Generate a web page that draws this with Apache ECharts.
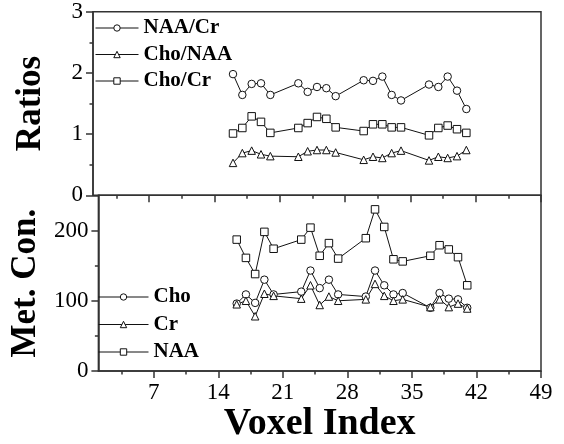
<!DOCTYPE html>
<html><head><meta charset="utf-8">
<script src="https://cdn.jsdelivr.net/npm/echarts@6/dist/echarts.min.js"></script>
<style>html,body{margin:0;padding:0;background:#fff}#c{width:564px;height:444px}</style>
</head><body><div id="c"></div>
<script>
const voxels = [16,17,18,19,20,23,24,25,26,27,30,31,32,33,34,37,38,39,40,41];
const naaCr  = [1.98,1.64,1.82,1.83,1.64,1.83,1.69,1.77,1.75,1.62,1.88,1.87,1.94,1.64,1.55,1.81,1.77,1.94,1.71,1.41];
const choNaa = [0.53,0.69,0.73,0.67,0.64,0.63,0.72,0.74,0.74,0.70,0.58,0.63,0.61,0.69,0.73,0.57,0.63,0.61,0.64,0.74];
const choCr  = [1.01,1.10,1.29,1.20,1.02,1.10,1.18,1.28,1.25,1.11,1.05,1.16,1.16,1.11,1.11,0.98,1.10,1.14,1.08,1.02];
const cho    = [96,109,97,130,109,113,143,118,130,109,106,143,122,109,111,90,111,103,102,90];
const cr     = [95,100,78,110,107,103,122,94,106,100,102,124,107,100,102,91,102,91,96,89];
const naa    = [187,161,138,198,174,187,204,164,182,160,189,230,205,159,156,164,179,173,162,122];
const xMajorTicks = [7,14,21,28,35,42,49];
const xMinorTicks = [3.5,10.5,17.5,24.5,31.5,38.5,45.5];
const conLabels = [0,100,200];

const FONT = "'Liberation Serif','Times New Roman',serif";
const AX = '#333';
const chart = echarts.init(document.getElementById('c'));
const pairs = v => voxels.map((x,i)=>[x,v[i]]);
const gridL = 93, gridR = 23;
function xAx(gi, ticks, len, labels, name){
  return {type:'value', gridIndex:gi, min:1, max:49, position:'bottom',
    axisLine:{show:labels!==null, onZero:false, lineStyle:{color:AX,width:1.5}},
    splitLine:{show:false},
    axisTick:{show:true, customValues:ticks, length:len, inside:false, lineStyle:{color:AX,width:1.5}},
    axisLabel:labels ? {show:true, customValues:labels, color:'#000', fontFamily:FONT, fontSize:23, margin:10} : {show:false},
    name:name||'', nameLocation:'middle', nameGap:30,
    nameTextStyle:{fontFamily:FONT, fontSize:38, fontWeight:'bold', color:'#000'}};
}
const yLabel = {show:true, color:'#000', fontFamily:FONT, fontSize:23, margin:10};
const yName = {fontFamily:FONT, fontSize:35, fontWeight:'bold', color:'#000'};
function ser(name, data, sym, xi, yi){
  return {name:name, type:'line', data:pairs(data), xAxisIndex:xi, yAxisIndex:yi,
    symbol:sym, symbolSize:7.5, showSymbol:true,
    lineStyle:{color:'#111', width:1},
    itemStyle:{color:'#fff', borderColor:'#111', borderWidth:1},
    emphasis:{disabled:true}, animation:false};
}
const legendItem = {color:'#fff', borderColor:'#111', borderWidth:1};
chart.setOption({
  animation:false,
  grid:[
    {left:gridL, right:gridR, top:11.7, height:183.6, show:true, borderColor:AX, borderWidth:1.5, backgroundColor:'transparent'},
    {left:gridL, right:gridR, top:195.3, height:179.4, show:true, borderColor:AX, borderWidth:1.5, backgroundColor:'transparent'}
  ],
  xAxis:[
    xAx(0, xMajorTicks, 7, null),
    xAx(0, xMinorTicks, 3.5, null),
    xAx(1, xMajorTicks, 7, xMajorTicks, 'Voxel Index'),
    xAx(1, xMinorTicks, 3.5, null)
  ],
  yAxis:[
    {type:'value', gridIndex:0, min:0, max:3, interval:1, position:'left',
     axisLine:{show:true, onZero:false, lineStyle:{color:AX,width:1.5}}, splitLine:{show:false},
     axisTick:{show:true, length:7, lineStyle:{color:AX,width:1.5}},
     minorTick:{show:true, splitNumber:2, length:3.5, lineStyle:{color:AX,width:1.5}},
     axisLabel:yLabel, name:'Ratios', nameLocation:'middle', nameGap:45, nameRotate:90, nameTextStyle:yName},
    {type:'value', gridIndex:1, min:0, max:250, interval:100, position:'left',
     axisLine:{show:true, onZero:false, lineStyle:{color:AX,width:1.5}}, splitLine:{show:false},
     axisTick:{show:true, length:7, lineStyle:{color:AX,width:1.5}},
     axisLabel:Object.assign({customValues:conLabels}, yLabel),
     name:'Met. Con.', nameLocation:'middle', nameGap:42, nameRotate:90, nameTextStyle:yName},
    {type:'value', gridIndex:1, min:0, max:250, interval:50, position:'left',
     axisLine:{show:false, onZero:false}, splitLine:{show:false},
     axisTick:{show:true, length:3.5, lineStyle:{color:AX,width:1.5}},
     axisLabel:{show:false}}
  ],
  legend:[
    {data:['NAA/Cr','Cho/NAA','Cho/Cr'], orient:'vertical', left:90, top:11, itemWidth:43, itemHeight:8, itemGap:2.5,
     itemStyle:legendItem, lineStyle:{color:'#111', width:1},
     textStyle:{fontFamily:FONT, fontSize:21, fontWeight:'bold', color:'#000', lineHeight:24}},
    {data:['Cho','Cr','NAA'], orient:'vertical', left:93, top:280, itemWidth:50, itemHeight:8, itemGap:3.5,
     itemStyle:legendItem, lineStyle:{color:'#111', width:1},
     textStyle:{fontFamily:FONT, fontSize:21, fontWeight:'bold', color:'#000', lineHeight:24}}
  ],
  series:[
    ser('NAA/Cr', naaCr, 'circle', 0, 0),
    ser('Cho/NAA', choNaa, 'triangle', 0, 0),
    ser('Cho/Cr', choCr, 'rect', 0, 0),
    ser('Cho', cho, 'circle', 2, 1),
    ser('Cr', cr, 'triangle', 2, 1),
    ser('NAA', naa, 'rect', 2, 1)
  ]
});
</script></body></html>
